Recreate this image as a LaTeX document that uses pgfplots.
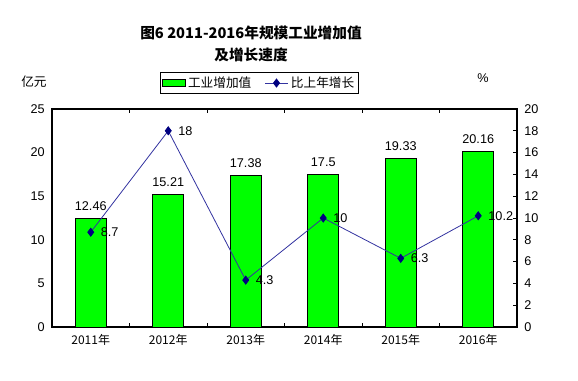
\documentclass[border=0pt]{standalone}
\usepackage{fontspec}
\usepackage{pgfplots}
\pgfplotsset{compat=1.18}
\setmainfont{Liberation Sans}
\newfontfamily\cjk{Noto Sans CJK SC}
\definecolor{bargreen}{RGB}{0,255,0}
\definecolor{linecol}{RGB}{51,51,160}
\definecolor{markcol}{RGB}{0,0,128}
\begin{document}
\begin{tikzpicture}
\path (0,0) rectangle (433.5pt,285pt);
\begin{axis}[
  at={(39pt,39.75pt)}, anchor=south west,
  scale only axis, width=348.75pt, height=163.5pt,
  xmin=-0.5, xmax=5.5, ymin=0, ymax=25,
  axis line style={black, line width=0.8pt},
  ytick={0,5,...,25},
  y tick style={draw=none},
  xtick={-0.5,0.5,...,5.5},
  x tick label as interval,
  xticklabels={2011年,2012年,2013年,2014年,2015年,2016年},
  x tick style={black, line width=0.6pt},
  major tick length=3pt,
  tick align=inside,
  xticklabel style={font=\cjk\fontsize{9}{10}\selectfont, yshift=-2pt},
  yticklabel style={font=\fontsize{9.5}{11}\selectfont, xshift=-2pt},
  /pgf/number format/assume math mode=true,
  axis on top=false,
]
\addplot[ybar, bar width=0.4, fill=bargreen, draw=black, line width=0.6pt,
  nodes near coords, nodes near coords style={font=\fontsize{9.5}{11}\selectfont, yshift=2pt},
  point meta=explicit symbolic]
  coordinates {(0,12.46)[12.46] (1,15.21)[15.21] (2,17.38)[17.38] (3,17.5)[17.5] (4,19.33)[19.33] (5,20.16)[20.16]};
\end{axis}
\begin{axis}[
  at={(39pt,39.75pt)}, anchor=south west,
  scale only axis, width=348.75pt, height=163.5pt,
  xmin=-0.5, xmax=5.5, ymin=0, ymax=20,
  axis x line=none,
  axis y line*=right,
  axis line style={black, line width=0.8pt},
  ytick={0,2,...,20},
  y tick style={black, line width=0.6pt},
  major tick length=3pt,
  tick align=inside,
  yticklabel style={font=\fontsize{9.5}{11}\selectfont, xshift=2pt},
  /pgf/number format/assume math mode=true,
  legend style={at={(0.446,1.119)}, anchor=center, draw=black, line width=0.6pt,
    font=\cjk\fontsize{9.5}{11}\selectfont, legend columns=2,
    inner sep=1pt, /tikz/every even column/.append style={column sep=8pt}},
  legend cell align=left,
]
\addlegendimage{area legend, fill=bargreen, draw=black, line width=0.6pt}
\addlegendentry{工业增加值}
\addplot[color=linecol, line width=0.6pt, mark=diamond*, mark size=3pt,
  mark options={fill=markcol, draw=markcol},
  nodes near coords, nodes near coords style={font=\fontsize{9.5}{11}\selectfont, anchor=west, xshift=4pt, text=black},
  point meta=explicit symbolic]
  coordinates {(0,8.7)[8.7] (1,18)[18] (2,4.3)[4.3] (3,10)[10] (4,6.3)[6.3] (5,10.2)[10.2]};
\addlegendentry{比上年增长}
\end{axis}
\node[font=\cjk\bfseries\fontsize{11}{13}\selectfont] at (188.25pt,260.25pt) {图6 2011-2016年规模工业增加值};
\node[font=\cjk\bfseries\fontsize{11}{13}\selectfont] at (188.25pt,243.75pt) {及增长速度};
\node[font=\cjk\fontsize{9.5}{11}\selectfont] at (25.5pt,223.5pt) {亿元};
\node[font=\fontsize{9.5}{11}\selectfont] at (362.25pt,226.5pt) {\%};
\end{tikzpicture}
\end{document}
